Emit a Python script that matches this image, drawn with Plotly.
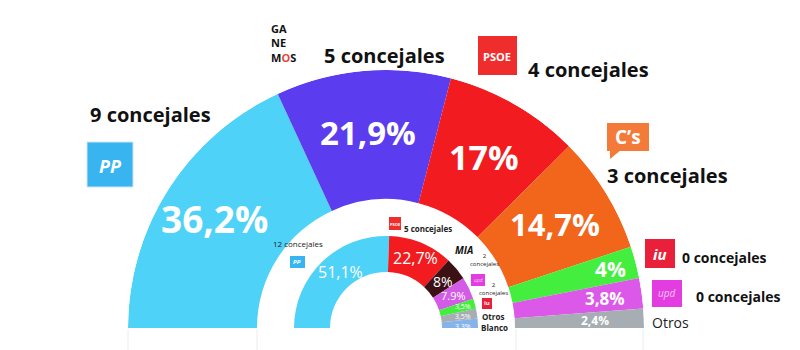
import plotly.graph_objects as go
import math

# ---- data ----
outer_parties = ["PP", "Ganemos", "PSOE", "C's", "IU", "UPyD", "Otros"]
outer_pct = [36.2, 21.9, 17.0, 14.7, 4.0, 3.8, 2.4]
outer_labels = ["36,2%", "21,9%", "17%", "14,7%", "4%", "3,8%", "2,4%"]
outer_colors = ["#4fd2f7", "#5b3cee", "#f21b1f", "#f2661c", "#44ee3e", "#dc58e8", "#a6aeb3"]

inner_parties = ["PP", "PSOE", "MIA", "UPyD", "IU", "Otros", "Blanco"]
inner_pct = [51.1, 22.7, 8.0, 7.9, 3.5, 3.5, 3.3]
inner_labels = ["51,1%", "22,7%", "8%", "7.9%", "3,5%", "3,5%", "3,3%"]
inner_colors = ["#4fd2f7", "#f21b1f", "#3c1116", "#d35be6", "#44ee3e", "#a6aeb3", "#86b4ea"]

seats_outer = ["9 concejales", "5 concejales", "4 concejales", "3 concejales", "0 concejales", "0 concejales", "Otros"]

W, H = 800, 350
CX, CY, R = 386, 328, 258
R_OUT_IN = 129
R_IN_OUT, R_IN_IN = 92, 56


def thetas(pcts):
    th, w, c = [], [], 0.0
    for p in pcts:
        th.append((c + p / 2) * 1.8)
        w.append(p * 1.8)
        c += p
    return th, w


oth, ow = thetas(outer_pct)
ith, iw = thetas(inner_pct)

fig = go.Figure()
fig.add_trace(go.Barpolar(
    theta=oth, width=ow, r=[R - R_OUT_IN] * len(outer_pct), base=[R_OUT_IN] * len(outer_pct),
    marker=dict(color=outer_colors, line=dict(width=0)), hoverinfo="skip", showlegend=False))
fig.add_trace(go.Barpolar(
    theta=ith, width=iw, r=[R_IN_OUT - R_IN_IN] * len(inner_pct), base=[R_IN_IN] * len(inner_pct),
    marker=dict(color=inner_colors, line=dict(width=0)), hoverinfo="skip", showlegend=False))

fig.update_layout(
    width=W, height=H, margin=dict(l=0, r=0, t=0, b=0, pad=0, autoexpand=False),
    paper_bgcolor="white", plot_bgcolor="white",
    polar=dict(
        domain=dict(x=[(CX - R) / W, (CX + R) / W], y=[1 - CY / H, 1 - (CY - R) / H]),
        sector=[0, 180], hole=0, bgcolor="white", barmode="overlay",
        radialaxis=dict(range=[0, R], visible=False, showticklabels=False, ticks=""),
        angularaxis=dict(direction="clockwise", rotation=180, visible=False, showticklabels=False, ticks=""),
    ),
)


def pos(theta, r):
    a = math.radians(180 - theta)
    px = CX + r * math.cos(a)
    py = CY - r * math.sin(a)
    return px / W, 1 - py / H


def px(x, y):
    return x / W, 1 - y / H


FONT = "Open Sans"


def ann(x, y, text, size, color, family=FONT):
    fig.add_annotation(x=x, y=y, xref="paper", yref="paper", text=text, showarrow=False,
                       xanchor="center", yanchor="middle", borderpad=0,
                       font=dict(family=family, size=size, color=color))


# outer percentage labels
o_r = [203, 196, 197, 198, 232, 221, 209]
o_size = [37, 33, 34, 31, 21, 17, 12]
for t, lab, rr, s in zip(oth, outer_labels, o_r, o_size):
    x, y = pos(t, rr)
    ann(x, y, f"<b>{lab}</b>", s, "white")

# inner percentage labels
i_size = [16, 16, 14, 11, 7, 7, 7]
i_pos = [(340, 272), (415, 258), (443, 281), (453, 295), (463, 306.5), (463, 316.5), (463, 326.5)]
for lab, (xx, yy), s in zip(inner_labels, i_pos, i_size):
    x, y = px(xx, yy)
    ann(x, y, lab, s, "white")

# outer seat labels
seat_pos = [(150, 115, 20), (384, 55, 20), (588, 70, 20), (667, 175, 20), (724, 257, 14), (738, 296, 14)]
for lab, (xx, yy, s) in zip(seats_outer[:6], seat_pos):
    x, y = px(xx, yy)
    ann(x, y, f"<b>{lab}</b>", s, "#111")
x, y = px(670, 322)
ann(x, y, seats_outer[6], 14, "#222")

# inner small texts
small = [("12 concejales", 298, 243, 8), ("<b>5 concejales</b>", 428, 228, 8),
         ("2<br>concejales", 484, 260, 6), ("2<br>concejales", 493, 289, 6),
         ("<b>Otros</b>", 493, 316, 8), ("<b>Blanco</b>", 494, 327, 8)]
for t, xx, yy, s in small:
    x, y = px(xx, yy)
    ann(x, y, t, s, "#222")


def box(x0, y0, x1, y1, color, line=None):
    fig.add_shape(type="rect", xref="paper", yref="paper",
                  x0=x0 / W, x1=x1 / W, y0=1 - y1 / H, y1=1 - y0 / H,
                  fillcolor=color, line=dict(width=1 if line else 0, color=line or color), layer="above")


def label(t, xx, yy, s, color="white"):
    x, y = px(xx, yy)
    ann(x, y, t, s, color)


# logos
box(87, 142, 133, 187, "#38b4f0", "#cfe6f2")
label("<b><i>PP</i></b>", 110, 166, 18)
fig.add_annotation(x=270 / W, y=1 - 43 / H, xref="paper", yref="paper", showarrow=False,
                   xanchor="left", yanchor="middle", align="left", borderpad=0,
                   text="<b>GA<br>NE<br>M<span style='color:#e8463a'>O</span>S</b>",
                   font=dict(family=FONT, size=11, color="#111"))
box(478, 36, 517, 75, "#ef2d2d")
label("<b>PSOE</b>", 497, 57, 11)
box(607, 123, 649, 151, "#f47a3a")
fig.add_shape(type="path", xref="paper", yref="paper",
              path=f"M {610/W},{1-150/H} L {621/W},{1-150/H} L {610/W},{1-159/H} Z",
              fillcolor="#f47a3a", line=dict(width=0), layer="above")
label("<b>C’s</b>", 628, 137, 19)
box(645, 239, 675, 268, "#e8203a")
label("<b><i>iu</i></b>", 660, 254, 15)
box(652, 280, 682, 307, "#e33ce0")
label("<i>upd</i>", 667, 293, 10, "#f6c9f3")

# inner small logos
box(290, 256, 305, 268, "#38b4f0")
label("<b><i>PP</i></b>", 297, 262, 6)
box(389, 217, 401, 230, "#ef2d2d")
label("<b>PSOE</b>", 395, 224, 4)
label("<b><i>MIA</i></b>", 464, 250, 10, "#111")
box(471, 274, 485, 286, "#e33ce0")
label("<i>upd</i>", 478, 280, 5, "#f6c9f3")
box(482, 298, 492, 309, "#e8203a")
label("<b>iu</b>", 487, 303, 6)

# faint guide lines
for xx in [128, 643, 257, 516]:
    fig.add_shape(type="line", xref="paper", yref="paper", x0=xx / W, x1=xx / W,
                  y0=0, y1=1 - 329 / H, line=dict(color="#ececec", width=1))

fig.write_html("out.html")
